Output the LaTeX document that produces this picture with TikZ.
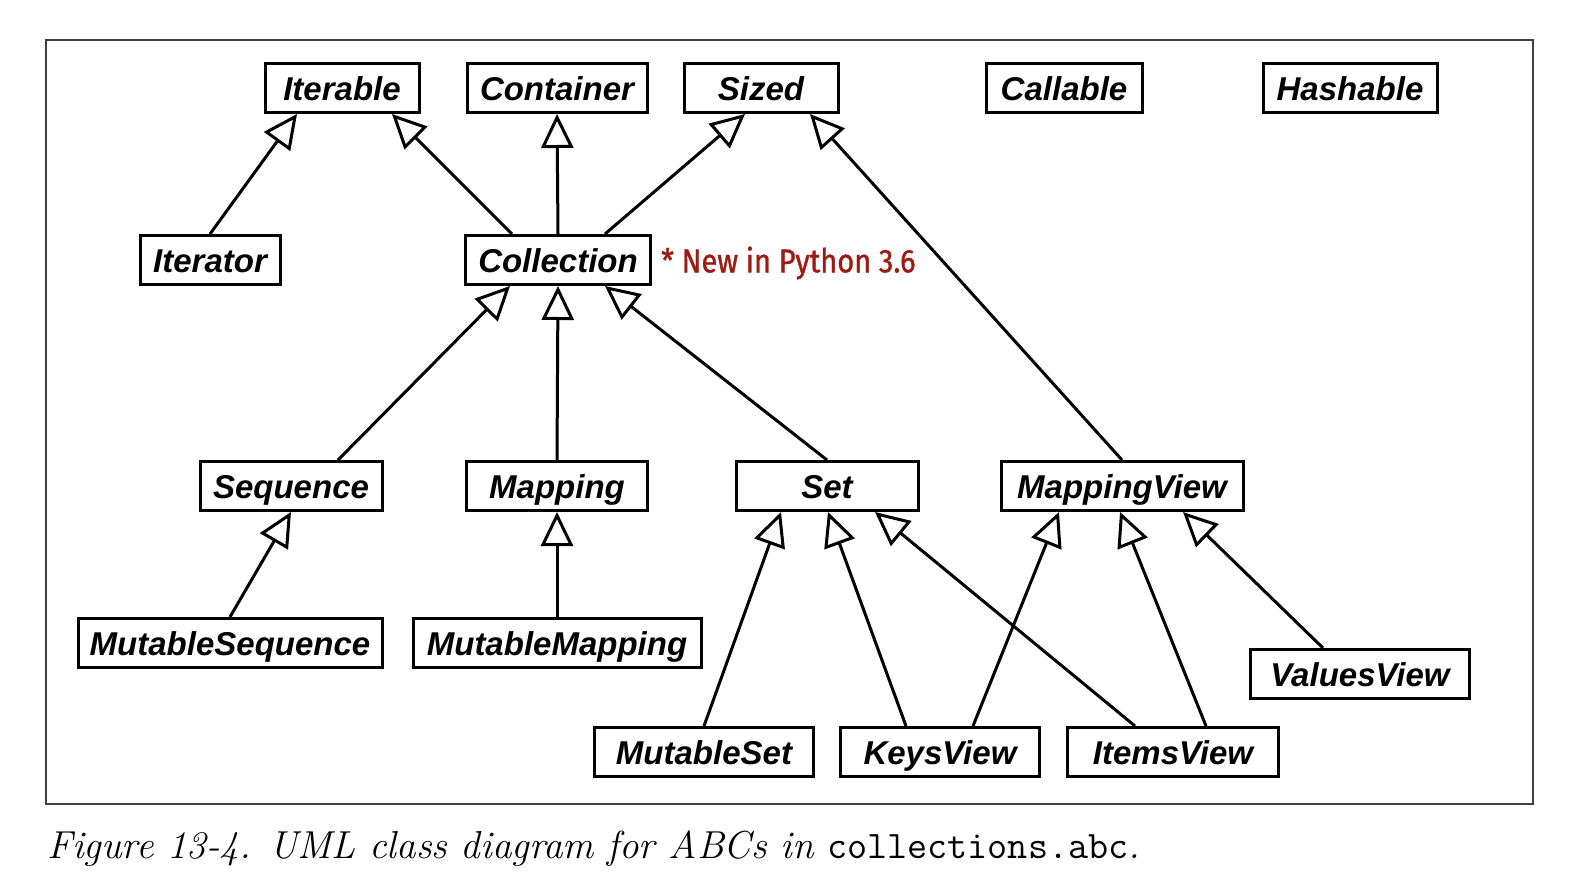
\documentclass[tikz,border=0pt]{standalone}
\usepackage{fontspec}
\usetikzlibrary{arrows.meta}
\newfontfamily\clsfont{Liberation Sans}
\newfontfamily\notefont{Fira Sans}[FakeBold=1.2]
\definecolor{notered}{HTML}{9B1C12}
\begin{document}
\begin{tikzpicture}[x=1pt,y=-1pt,
  cls/.style={draw, line width=3pt, inner sep=0pt, minimum height=49pt,
    text height=30pt, text depth=6pt,
    font=\clsfont\bfseries\itshape\fontsize{33}{36}\selectfont},
  inh/.style={line width=3pt, -{Triangle[open, length=34pt, width=32pt]}}]
\useasboundingbox (0,0) rectangle (1572,875);
\draw[line width=1.5pt, black!75] (46,40) rectangle (1533,804);
% top row
\node[cls, minimum width=154pt] (iterable) at (342,88) {Iterable};
\node[cls, minimum width=180pt] (container) at (557,88) {Container};
\node[cls, minimum width=154pt] (sized) at (761,88) {Sized};
\node[cls, minimum width=156pt] (callable) at (1064,88) {Callable};
\node[cls, minimum width=174pt] (hashable) at (1350,88) {Hashable};
% second row
\node[cls, minimum width=140pt] (iterator) at (210,260) {Iterator};
\node[cls, minimum width=185pt] (collection) at (558,260) {Collection};
\node[anchor=west, text=notered, inner sep=0pt, font=\notefont\fontsize{33}{36}\selectfont] (note) at (661,263) {\scalebox{0.88}[1]{* New in Python 3.6}};
% third row
\node[cls, minimum width=182pt] (sequence) at (291,486) {Sequence};
\node[cls, minimum width=181pt] (mapping) at (557,486) {Mapping};
\node[cls, minimum width=182pt] (set) at (827,486) {Set};
\node[cls, minimum width=242pt] (mappingview) at (1122,486) {MappingView};
% fourth row
\node[cls, minimum width=304pt] (mutseq) at (230,643) {MutableSequence};
\node[cls, minimum width=288pt] (mutmap) at (557,643) {MutableMapping};
\node[cls, minimum width=219pt] (valuesview) at (1360,674) {ValuesView};
% bottom row
\node[cls, minimum width=219pt] (mutset) at (704,752) {MutableSet};
\node[cls, minimum width=199pt] (keysview) at (940,752) {KeysView};
\node[cls, minimum width=211pt] (itemsview) at (1173,752) {ItemsView};
% inheritance
\draw[inh] (iterator.north) -- ([xshift=-45pt]iterable.south);
\draw[inh] ([xshift=-46pt]collection.north) -- ([xshift=50pt]iterable.south);
\draw[inh] (collection.north) -- (container.south);
\draw[inh] ([xshift=47pt]collection.north) -- ([xshift=-16pt]sized.south);
\draw[inh] (mappingview.north) -- ([xshift=49pt]sized.south);
\draw[inh] ([xshift=47pt]sequence.north) -- ([xshift=-48pt]collection.south);
\draw[inh] (mapping.north) -- (collection.south);
\draw[inh] (set.north) -- ([xshift=47pt]collection.south);
\draw[inh] (mutseq.north) -- (sequence.south);
\draw[inh] (mutmap.north) -- (mapping.south);
\draw[inh] (mutset.north) -- ([xshift=-46pt]set.south);
\draw[inh] ([xshift=-34pt]keysview.north) -- ([xshift=1pt]set.south);
\draw[inh] ([xshift=-38pt]itemsview.north) -- ([xshift=48pt]set.south);
\draw[inh] ([xshift=33pt]keysview.north) -- ([xshift=-63pt]mappingview.south);
\draw[inh] ([xshift=33pt]itemsview.north) -- ([xshift=-2pt]mappingview.south);
\draw[inh] ([xshift=-37pt]valuesview.north) -- ([xshift=61pt]mappingview.south);
% caption
\node[anchor=base west, inner sep=0pt, font=\fontsize{39}{42}\selectfont\itshape] (caption) at (47,858)
  {Figure 13-4. UML class diagram for ABCs in \texttt{\upshape collections.abc}.};
\end{tikzpicture}
\end{document}
